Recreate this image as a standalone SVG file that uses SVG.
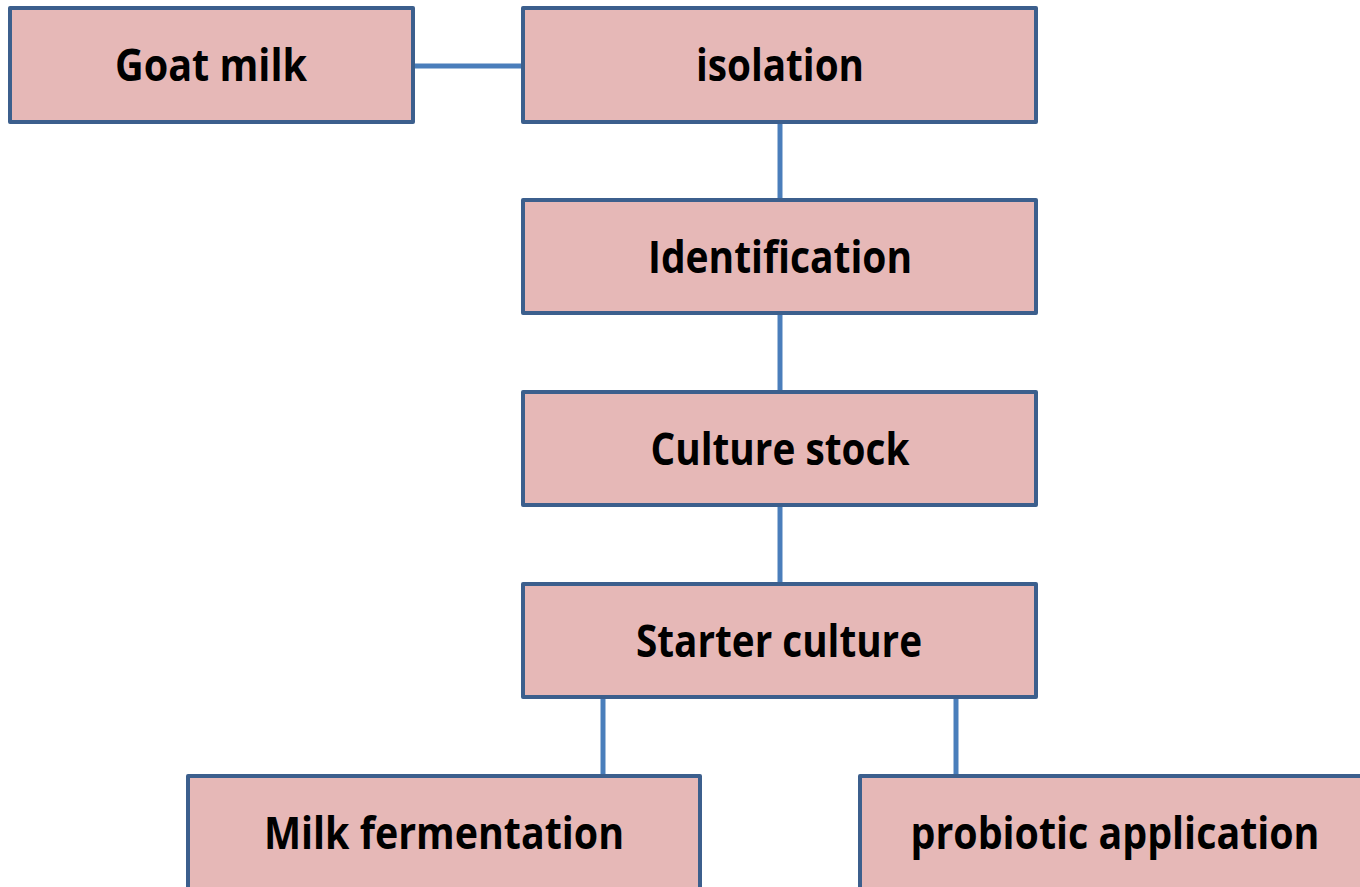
<svg xmlns="http://www.w3.org/2000/svg" width="1360" height="887" viewBox="0 0 1360 887">
<style>
.box{fill:#e6b8b7;stroke:#3c5f8d;stroke-width:4;stroke-linejoin:round}
.lbl{font-family:"Open Sans","Liberation Sans",sans-serif;font-weight:700;font-size:44px;fill:#000;text-anchor:middle}
.conn{stroke:#4a7ebb;stroke-width:5;fill:none}
</style>
<rect width="1360" height="887" fill="#fff"/>
<g id="connectors">
<line class="conn" x1="413" y1="66" x2="523" y2="66"/>
<line class="conn" x1="780" y1="122" x2="780" y2="200"/>
<line class="conn" x1="780" y1="313" x2="780" y2="392"/>
<line class="conn" x1="780" y1="505" x2="780" y2="584"/>
<line class="conn" x1="603" y1="697" x2="603" y2="776"/>
<line class="conn" x1="956" y1="697" x2="956" y2="776"/>
</g>
<g id="goat-milk"><rect class="box" x="10" y="8" width="403" height="114"/><text class="lbl" x="211" y="81" textLength="192" lengthAdjust="spacingAndGlyphs">Goat milk</text></g>
<g id="isolation"><rect class="box" x="523" y="8" width="513" height="114"/><text class="lbl" x="780" y="81" textLength="168" lengthAdjust="spacingAndGlyphs">isolation</text></g>
<g id="identification"><rect class="box" x="523" y="200" width="513" height="113"/><text class="lbl" x="780" y="273" textLength="264" lengthAdjust="spacingAndGlyphs">Identification</text></g>
<g id="culture-stock"><rect class="box" x="523" y="392" width="513" height="113"/><text class="lbl" x="780" y="465" textLength="259" lengthAdjust="spacingAndGlyphs">Culture stock</text></g>
<g id="starter-culture"><rect class="box" x="523" y="584" width="513" height="113"/><text class="lbl" x="779" y="657" textLength="286" lengthAdjust="spacingAndGlyphs">Starter culture</text></g>
<g id="milk-fermentation"><rect class="box" x="188" y="776" width="512" height="120"/><text class="lbl" x="444" y="849" textLength="360" lengthAdjust="spacingAndGlyphs">Milk fermentation</text></g>
<g id="probiotic-application"><rect class="box" x="860" y="776" width="520" height="120"/><text class="lbl" x="1115" y="849" textLength="409" lengthAdjust="spacingAndGlyphs">probiotic application</text></g>
</svg>
